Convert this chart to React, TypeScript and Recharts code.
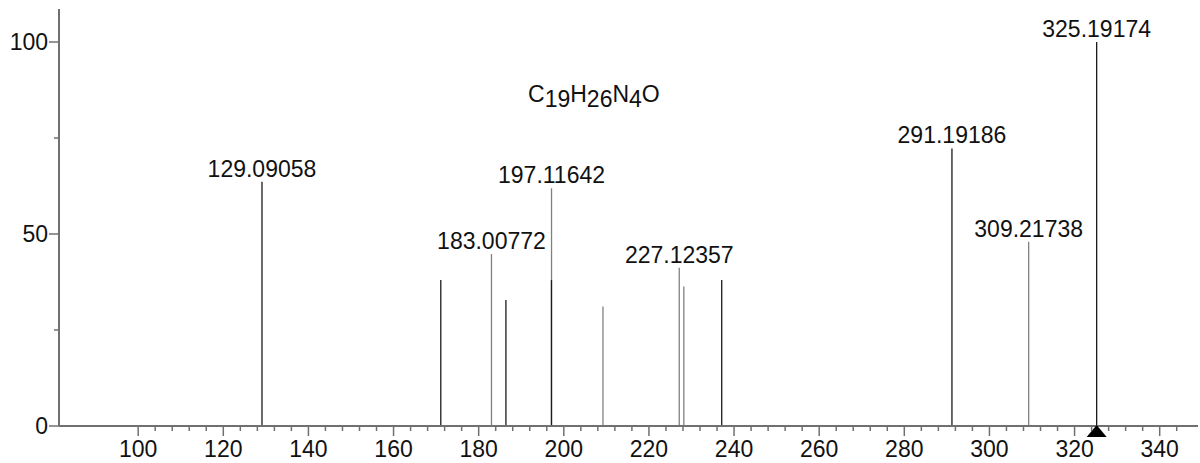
import { ComposedChart, XAxis, YAxis, Scatter, ReferenceLine, Customized } from 'recharts';

// fragment peaks (m/z, relative intensity)
const peakMz = [129.09058, 171.1, 183.00772, 186.4, 197.11642, 197.1, 209.2, 227.12357, 228.2, 237.1, 291.19186, 309.21738, 325.19174];
const peakInt = [63.6, 38.0, 44.8, 32.8, 61.9, 38.0, 31.1, 41.2, 36.3, 38.0, 72.3, 48.0, 100];
const peakTone = ['dark', 'dark', 'light', 'dark', 'light', 'dark', 'light', 'light', 'light', 'dark', 'dark', 'light', 'dark'];

// annotated peaks
const labelMz = [129.09058, 183.00772, 197.11642, 227.12357, 291.19186, 309.21738, 325.19174];

const precursorMz = 325.19174;

const xMajorTicks = [100, 120, 140, 160, 180, 200, 220, 240, 260, 280, 300, 320, 340];
const yTicks = [0, 25, 50, 75, 100];
const yMajorTicks = [0, 50, 100];

const formulaParts = [
  { t: 'C', sub: false },
  { t: '19', sub: true },
  { t: 'H', sub: false },
  { t: '26', sub: true },
  { t: 'N', sub: false },
  { t: '4', sub: true },
  { t: 'O', sub: false },
];

const AXIS = '#707070';
const FONT = '"Liberation Sans", Arial, Helvetica, sans-serif';

const xTicks: number[] = [];
for (let v = 100; v <= 344; v += 4) xTicks.push(v);

const labelData = labelMz.map((mz) => ({ mz, int: peakInt[peakMz.indexOf(mz)] }));
const precursorData = [{ mz: precursorMz, int: 0 }];

function XTick(props: any) {
  const { x, y, payload } = props;
  const major = xMajorTicks.includes(payload.value);
  return (
    <g>
      <line x1={x} y1={y} x2={x} y2={y + (major ? 10 : 5)} stroke={AXIS} strokeWidth={1.5} />
      {major && (
        <text x={x} y={y + 31} textAnchor="middle" fontSize={23} fill="#111" fontFamily={FONT}>
          {payload.value}
        </text>
      )}
    </g>
  );
}

function YTick(props: any) {
  const { x, y, payload } = props;
  const major = yMajorTicks.includes(payload.value);
  return (
    <g>
      <line x1={x} y1={y} x2={x - (major ? 10 : 5)} y2={y} stroke={AXIS} strokeWidth={1.5} />
      {major && (
        <text x={x - 11} y={y + 8} textAnchor="end" fontSize={23} fill="#111" fontFamily={FONT}>
          {payload.value}
        </text>
      )}
    </g>
  );
}

function PeakLabel(props: any) {
  const { cx, cy, payload } = props;
  return (
    <text x={cx} y={cy - 5} textAnchor="middle" fontSize={23} fill="#111" fontFamily={FONT}>
      {payload.mz.toFixed(5)}
    </text>
  );
}

function PrecursorMark(props: any) {
  const { cx, cy } = props;
  return <path d={`M${cx},${cy - 1} L${cx + 10},${cy + 11} L${cx - 10},${cy + 11} Z`} fill="#000" />;
}

function Formula() {
  let dy = 0;
  return (
    <text x={528} y={101.5} fontSize={23} fill="#111" fontFamily={FONT}>
      {formulaParts.map((p, i) => {
        const shift = (p.sub ? 5 : 0) - dy;
        dy = p.sub ? 5 : 0;
        return (
          <tspan key={i} dy={shift}>
            {p.t}
          </tspan>
        );
      })}
    </text>
  );
}

export default function App() {
  return (
    <div style={{ position: 'absolute', left: 0, top: 0, fontFamily: FONT }}>
      <ComposedChart width={1200} height={463} margin={{ top: 9, right: 2, bottom: 0, left: 0 }}>
        <XAxis
          type="number"
          dataKey="mz"
          domain={[81.4, 349]}
          ticks={xTicks}
          interval={0}
          tick={<XTick />}
          tickLine={false}
          tickSize={0}
          tickMargin={0}
          height={37}
          axisLine={{ stroke: AXIS, strokeWidth: 2 }}
        />
        <YAxis
          type="number"
          dataKey="int"
          domain={[0, 108.6]}
          ticks={yTicks}
          interval={0}
          tick={<YTick />}
          tickLine={false}
          tickSize={0}
          tickMargin={0}
          width={59}
          axisLine={{ stroke: AXIS, strokeWidth: 2 }}
        />
        {peakMz.map((mz, i) => (
          <ReferenceLine
            key={i}
            segment={[
              { x: mz, y: 0 },
              { x: mz, y: peakInt[i] },
            ]}
            stroke={peakTone[i] === 'dark' ? '#1a1a1a' : '#808080'}
            strokeWidth={1.3}
          />
        ))}
        <Scatter data={labelData} dataKey="int" shape={<PeakLabel />} isAnimationActive={false} />
        <Scatter data={precursorData} dataKey="int" shape={<PrecursorMark />} isAnimationActive={false} />
        <Customized component={Formula} />
      </ComposedChart>
    </div>
  );
}
